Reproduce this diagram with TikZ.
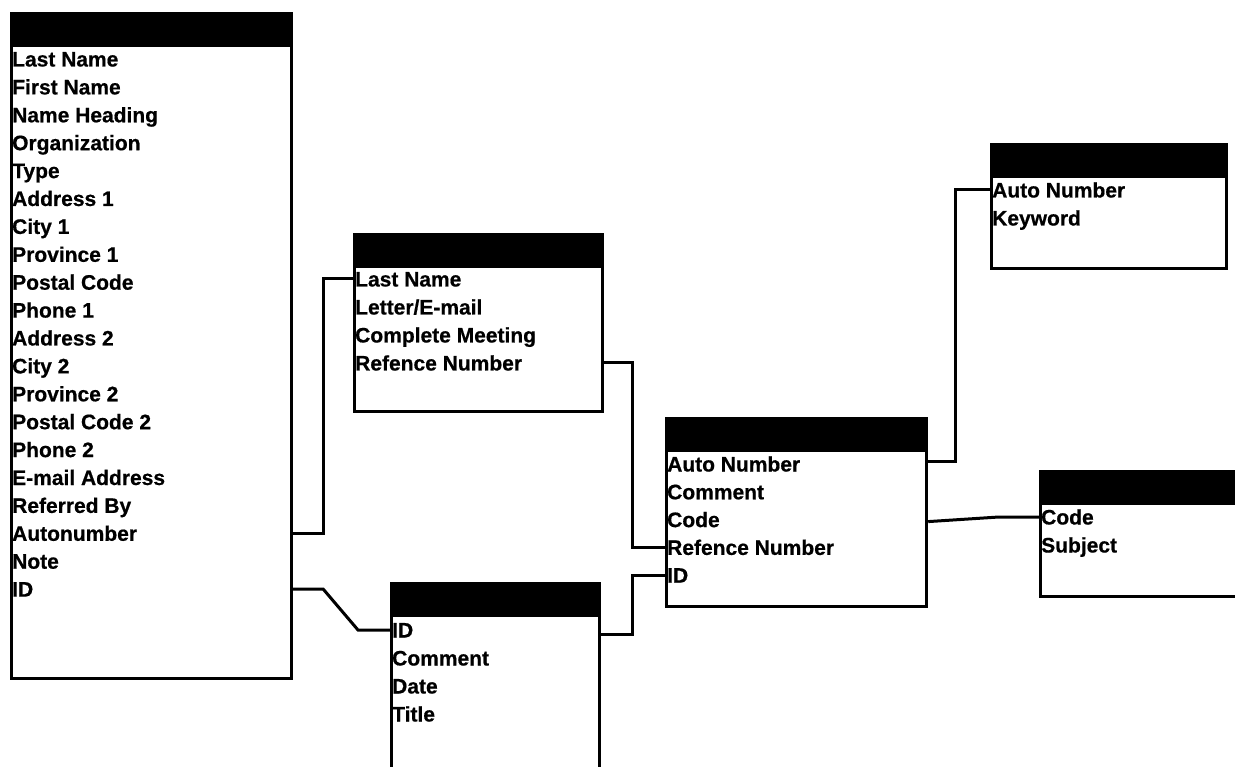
\documentclass[tikz,border=0pt]{standalone}
\usepackage{fontspec}
\setmainfont{Liberation Sans}[BoldFeatures={FakeBold=0.6}]
\begin{document}
\begin{tikzpicture}[x=1pt,y=-1pt]
\tikzset{
 tbl/.style={draw, line width=3.2pt, anchor=north west, inner sep=0pt, fill=white},
 hdr/.style={fill=black, draw, line width=3.2pt, anchor=north west, inner sep=0pt, minimum height=32pt},
 fld/.style={anchor=west, inner sep=0pt, text height=15pt, text depth=0pt, font=\fontsize{21}{24}\selectfont\bfseries},
 conn/.style={line width=3pt, line join=miter}
}
\useasboundingbox[fill=white] (0,0) rectangle (1235,767);
\clip (0,0) rectangle (1235,767);
% tables
\node[tbl, minimum width=280pt, minimum height=665pt] (L) at (10,12) {};
\node[hdr, minimum width=280pt] (Lh) at (10,12) {};
\node[tbl, minimum width=248pt, minimum height=177pt] (M) at (353,233) {};
\node[hdr, minimum width=248pt] (Mh) at (353,233) {};
\node[tbl, minimum width=208pt, minimum height=230pt] (B) at (390,582) {};
\node[hdr, minimum width=208pt] (Bh) at (390,582) {};
\node[tbl, minimum width=260pt, minimum height=188pt] (C) at (665,417) {};
\node[hdr, minimum width=260pt] (Ch) at (665,417) {};
\node[tbl, minimum width=235pt, minimum height=124pt] (T) at (990,143) {};
\node[hdr, minimum width=235pt] (Th) at (990,143) {};
\node[tbl, minimum width=230pt, minimum height=125pt] (R) at (1039,470) {};
\node[hdr, minimum width=230pt] (Rh) at (1039,470) {};
% fields
\foreach \t [count=\i] in {Last Name, First Name, Name Heading, Organization, Type, Address 1, City 1, Province 1, Postal Code, Phone 1, Address 2, City 2, Province 2, Postal Code 2, Phone 2, E-mail Address, Referred By, Autonumber, Note, ID}
  \node[fld] (L\i) at (12,{59+27.9*(\i-1)}) {\t};
\foreach \t [count=\i] in {Last Name, Letter/E-mail, Complete Meeting, Refence Number}
  \node[fld] (M\i) at (355,{279+28*(\i-1)}) {\t};
\foreach \t [count=\i] in {ID, Comment, Date, Title}
  \node[fld] (B\i) at (392,{630+28*(\i-1)}) {\t};
\foreach \t [count=\i] in {Auto Number, Comment, Code, Refence Number, ID}
  \node[fld] (C\i) at (667,{464+27.8*(\i-1)}) {\t};
\foreach \t [count=\i] in {Auto Number, Keyword}
  \node[fld] (T\i) at (992,{190+28*(\i-1)}) {\t};
\foreach \t [count=\i] in {Code, Subject}
  \node[fld] (R\i) at (1041,{517+28*(\i-1)}) {\t};
% connectors
\draw[conn] (L.east |- L18) -- ++(30,0) |- (M.west |- M1);
\draw[conn] (L.east |- L20) -- ++(30,0) -- ([xshift=-32pt]B.west |- B1) -- (B.west |- B1);
\draw[conn] (M.east |- M4) -| ([xshift=-33pt]C.west |- C4) -- (C.west |- C4);
\draw[conn] ([yshift=-4pt]B.east |- B1) -| ([xshift=-33pt]C.west |- C5) -- (C.west |- C5);
\draw[conn] ([yshift=3pt]C.east |- C1) -| ([xshift=-35pt]T.west |- T1) -- (T.west |- T1);
\draw[conn] ([yshift=-2pt]C.east |- C3) -- ([xshift=-40pt]R.west |- R1) -- (R.west |- R1);
\end{tikzpicture}
\end{document}
